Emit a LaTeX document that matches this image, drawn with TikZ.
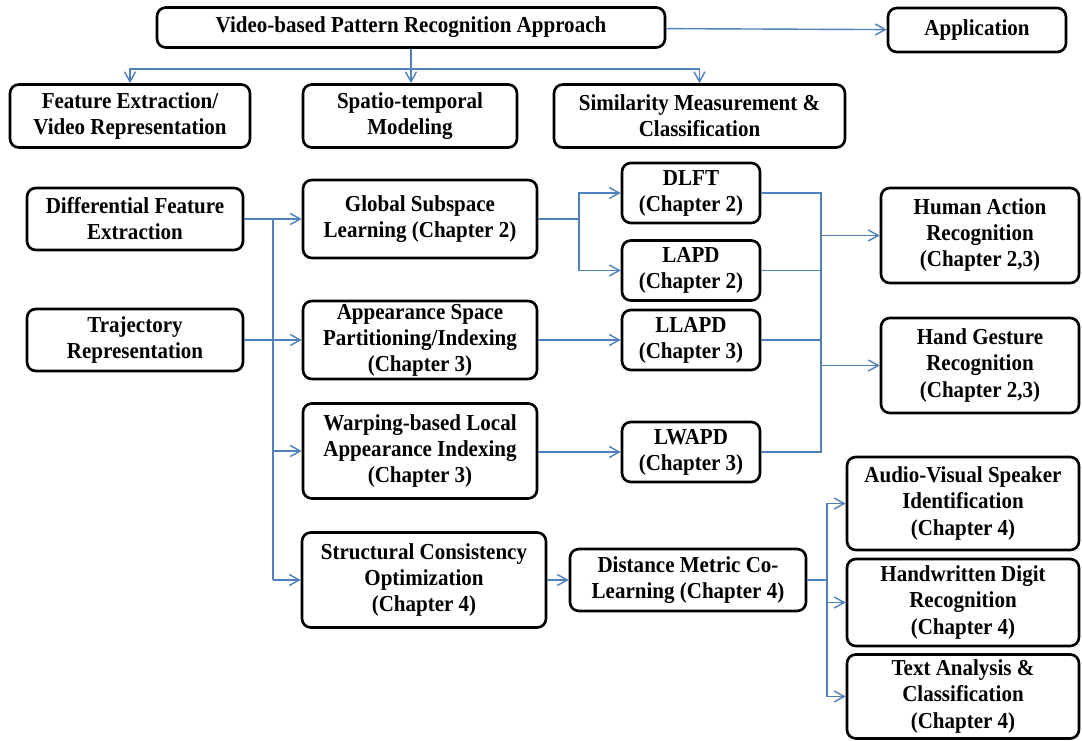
\documentclass[tikz,border=0pt]{standalone}
\usepackage{fontspec}
\setmainfont{Liberation Serif}[FakeStretch=0.92]
\usetikzlibrary{arrows.meta}
\definecolor{linkblue}{RGB}{79,129,189}
\tikzset{
	block/.style    = {draw, line width=1.5pt, rounded corners=5pt, align=center,
		inner sep=1pt, font=\bfseries\fontsize{13}{14.8}\selectfont},
	wide/.style     = {block, minimum width=4.68cm}, % middle column
	small/.style    = {block, minimum width=2.76cm, minimum height=1.2cm},
	goal/.style     = {block, minimum width=4.64cm}, % right column
	link/.style     = {draw=linkblue, line width=0.8pt}
}

\begin{document}
\begin{tikzpicture}[>={Straight Barb[length=2mm,width=2.2mm]}]
	\useasboundingbox (0,0) rectangle (21.64,14.8);
	\draw
	node at (8.22,14.25)[block, minimum width=10.16cm, minimum height=0.8cm] (top) {Video-based Pattern Recognition Approach}
	node at (19.54,14.2)[block, minimum width=3.56cm, minimum height=0.88cm] (app) {Application}
	node at (2.6,12.48)[block, minimum width=4.8cm, minimum height=1.26cm] (feat) {Feature Extraction/\\Video Representation}
	node at (8.2,12.48)[block, minimum width=4.28cm, minimum height=1.26cm] (spat) {Spatio-temporal\\Modeling}
	node at (13.99,12.48)[block, minimum width=5.82cm, minimum height=1.26cm] (simi) {Similarity Measurement \&\\Classification}
	;

	% input features
	\draw
	node at (2.7,10.42)[block, minimum width=4.32cm, minimum height=1.24cm] (diff) {Differential Feature\\Extraction}
	node at (2.7,8.0)[block, minimum width=4.32cm, minimum height=1.24cm] (traj) {Trajectory\\Representation}
	;

	% modeling
	\draw
	node at (8.4,10.42)[wide, minimum height=1.56cm] (glob) {Global Subspace\\Learning (Chapter 2)}
	node at (8.4,8.0)[wide, minimum height=1.56cm] (appe) {Appearance Space\\Partitioning/Indexing\\(Chapter 3)}
	node at (8.4,5.78)[wide, minimum height=1.9cm] (warp) {Warping-based Local\\Appearance Indexing\\(Chapter 3)}
	node at (8.48,3.2)[block, minimum width=4.88cm, minimum height=1.9cm] (stru) {Structural Consistency\\Optimization\\(Chapter 4)}
	;

	% descriptors
	\draw
	node at (13.82,10.94)[small] (dlft) {DLFT\\(Chapter 2)}
	node at (13.82,9.39)[small] (lapd) {LAPD\\(Chapter 2)}
	node at (13.82,8.0)[small] (llapd) {LLAPD\\(Chapter 3)}
	node at (13.82,5.76)[small] (lwapd) {LWAPD\\(Chapter 3)}
	node at (13.76,3.2)[block, minimum width=4.72cm, minimum height=1.24cm] (dist) {Distance Metric Co-\\Learning (Chapter 4)}
	;

	% applications
	\draw
	node at (19.6,10.09)[block, minimum width=3.96cm, minimum height=1.9cm] (human) {Human Action\\Recognition\\(Chapter 2,3)}
	node at (19.6,7.49)[block, minimum width=3.96cm, minimum height=1.9cm] (hand) {Hand Gesture\\Recognition\\(Chapter 2,3)}
	node at (19.26,4.73)[goal, minimum height=1.86cm] (audio) {Audio-Visual Speaker\\Identification\\(Chapter 4)}
	node at (19.26,2.75)[goal, minimum height=1.74cm] (handw) {Handwritten Digit\\Recognition\\(Chapter 4)}
	node at (19.26,0.87)[goal, minimum height=1.68cm] (text) {Text Analysis \&\\Classification\\(Chapter 4)}
	;

	\coordinate (j1) at (8.22,13.42);
	\coordinate (b1) at (5.46,10.42);
	\coordinate (b2) at (5.46,3.2);
	\coordinate (s1) at (11.58,10.42);
	\coordinate (r1) at (16.42,10.94);
	\coordinate (r2) at (16.42,5.76);
	\coordinate (d1) at (16.54,3.2);

	\draw[link,->](top) -- (app);
	\draw[link,->](top.south) -- (top.south |- spat.north);
	\draw[link,->](j1) -| (feat.north);
	\draw[link,->](j1) -| (simi.north);

	\draw[link,->](diff) -- (glob);
	\draw[link,->](traj) -- (appe);
	\draw[link](b1) -- (b2);
	\draw[link,->](b1 |- warp) -- (warp);
	\draw[link,->](b2) -- (stru);

	\draw[link](glob) -- (s1);
	\draw[link,->](s1) |- (dlft);
	\draw[link,->](s1) |- (lapd);
	\draw[link,->](appe) -- (llapd);
	\draw[link,->](warp.east |- lwapd) -- (lwapd);

	\draw[link](dlft) -- (r1) -- (r2) -- (lwapd);
	\draw[link](lapd) -- (r1 |- lapd);
	\draw[link](llapd) -- (r1 |- llapd);
	\draw[link,->](r1 |- human) -- (human);
	\draw[link,->](r1 |- hand) -- (hand);

	\draw[link,->](stru) -- (dist);
	\draw[link](dist) -- (d1);
	\draw[link,->](d1) |- (audio);
	\draw[link,->](d1) |- (handw);
	\draw[link,->](d1) |- (text);
\end{tikzpicture}
\end{document}
